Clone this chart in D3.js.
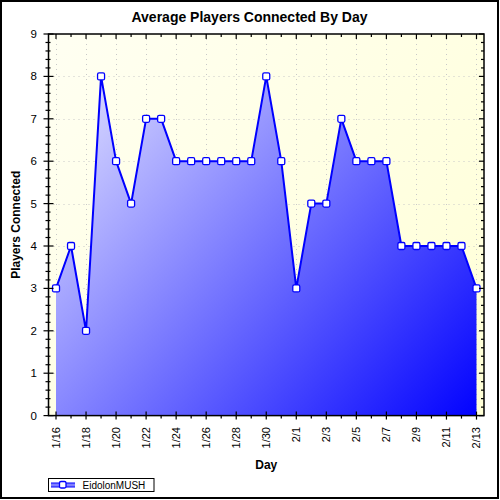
<!DOCTYPE html>
<html><head><meta charset="utf-8">
<script src="https://cdn.jsdelivr.net/npm/d3@7"></script>
<style>body{margin:0;background:#fff}svg{display:block}</style>
</head><body>
<svg id="c" width="500" height="500"></svg>
<script>
const days = ["1/16","1/17","1/18","1/19","1/20","1/21","1/22","1/23","1/24","1/25","1/26","1/27","1/28","1/29","1/30","1/31",
              "2/1","2/2","2/3","2/4","2/5","2/6","2/7","2/8","2/9","2/10","2/11","2/12","2/13"];
const players = [3,4,2,8,6,5,7,7,6,6,6,6,6,6,8,6,3,5,5,7,6,6,6,4,4,4,4,4,3];
const yTicks = [0,1,2,3,4,5,6,7,8,9];
const seriesName = "EidolonMUSH";
const title = "Average Players Connected By Day";
const xTitle = "Day";
const yTitle = "Players Connected";

const svg = d3.select("#c");
const L = 48.5, R = 484, T = 34, B = 415.6;
const x = d3.scalePoint().domain(days).range([L, R]).padding(0.5);
const y = d3.scaleLinear().domain([0, 9]).range([B, T]);
const labelDays = days.filter((d, i) => i % 2 === 0);
const minorY = d3.range(0, 9.001, 0.2).filter(v => Math.abs(v - Math.round(v)) > 1e-6);

const defs = svg.append("defs");
const bg = defs.append("linearGradient").attr("id","bg").attr("gradientUnits","userSpaceOnUse")
  .attr("x1",L).attr("y1",T).attr("x2",R).attr("y2",B);
bg.append("stop").attr("offset",0).attr("stop-color","#fffff2");
bg.append("stop").attr("offset",1).attr("stop-color","#ffffd6");
const ag = defs.append("linearGradient").attr("id","ag").attr("gradientUnits","userSpaceOnUse")
  .attr("x1",L).attr("y1",T).attr("x2",R).attr("y2",B);
ag.append("stop").attr("offset",0).attr("stop-color","#f2f2ff");
ag.append("stop").attr("offset",1).attr("stop-color","#0000ff");
const lg = defs.append("linearGradient").attr("id","lg").attr("x1",0).attr("y1",0).attr("x2",0).attr("y2",1);
lg.append("stop").attr("offset",0).attr("stop-color","#0000ff");
lg.append("stop").attr("offset",0.5).attr("stop-color","#a0a0ff");
lg.append("stop").attr("offset",1).attr("stop-color","#0000ff");

// outer frame
svg.append("rect").attr("x",1).attr("y",1).attr("width",497).attr("height",497)
  .attr("fill","#fff").attr("stroke","#000").attr("stroke-width",2);

// plot background
svg.append("rect").attr("x",L).attr("y",T).attr("width",R-L).attr("height",B-T).attr("fill","url(#bg)");

// grid
const grid = svg.append("g").attr("stroke","#c8c8c8").attr("stroke-dasharray","1,4").attr("stroke-width",1);
grid.selectAll("line.h").data(yTicks.slice(1,-1)).join("line")
  .attr("x1",L).attr("x2",R).attr("y1",d=>Math.round(y(d))+0.5).attr("y2",d=>Math.round(y(d))+0.5);
grid.selectAll("line.v").data(labelDays).join("line")
  .attr("y1",T).attr("y2",B).attr("x1",d=>Math.round(x(d))+0.5).attr("x2",d=>Math.round(x(d))+0.5);

// area
const area = d3.area().x((d,i)=>x(days[i])).y0(B).y1(d=>y(d));
svg.append("path").datum(players).attr("d",area).attr("fill","url(#ag)");
const line = d3.line().x((d,i)=>x(days[i])).y(d=>y(d));
svg.append("path").datum(players).attr("d",line).attr("fill","none")
  .attr("stroke","#0000ff").attr("stroke-width",2).attr("stroke-linejoin","round");

// markers
svg.append("g").selectAll("rect").data(players).join("rect")
  .attr("x",(d,i)=>x(days[i])-3.5).attr("y",d=>y(d)-3.5).attr("width",7).attr("height",7)
  .attr("rx",1.5).attr("fill","#fff").attr("stroke","#0000ff").attr("stroke-width",1.3);

// plot border
svg.append("rect").attr("x",L).attr("y",T).attr("width",R-L).attr("height",B-T)
  .attr("fill","none").attr("stroke","#000").attr("stroke-width",1.5);

// axes
const ax = svg.append("g").attr("stroke","#000").attr("stroke-width",1.2);
// left
ax.selectAll("line.ly").data(yTicks).join("line")
  .attr("x1",L-5).attr("x2",L+5).attr("y1",d=>y(d)).attr("y2",d=>y(d));
ax.selectAll("line.lmy").data(minorY).join("line")
  .attr("x1",L-3).attr("x2",L+2).attr("y1",d=>y(d)).attr("y2",d=>y(d));
// right (inside)
ax.selectAll("line.ry").data(yTicks).join("line")
  .attr("x1",R-5).attr("x2",R).attr("y1",d=>y(d)).attr("y2",d=>y(d));
ax.selectAll("line.rmy").data(minorY).join("line")
  .attr("x1",R-3).attr("x2",R).attr("y1",d=>y(d)).attr("y2",d=>y(d));
// bottom
ax.selectAll("line.bx").data(labelDays).join("line")
  .attr("y1",B-4).attr("y2",B+4).attr("x1",d=>x(d)).attr("x2",d=>x(d));
ax.selectAll("line.bmx").data(days.filter((d,i)=>i%2===1)).join("line")
  .attr("y1",B).attr("y2",B+3).attr("x1",d=>x(d)).attr("x2",d=>x(d));
// top (inside)
ax.selectAll("line.tx").data(days).join("line")
  .attr("y1",T).attr("y2",(d,i)=>T+(i%2===0?5:3)).attr("x1",d=>x(d)).attr("x2",d=>x(d));

const font = "'Liberation Sans', Arial, sans-serif";
// y labels
svg.append("g").selectAll("text").data(yTicks).join("text")
  .attr("x",37).attr("y",d=>y(d)).attr("dy","0.35em").attr("text-anchor","end")
  .attr("font-family",font).attr("font-size",11.5).text(d=>d);
// x labels
svg.append("g").selectAll("text").data(labelDays).join("text")
  .attr("transform",d=>`translate(${x(d)+4},427) rotate(-90)`).attr("text-anchor","end")
  .attr("font-family",font).attr("font-size",11).text(d=>d);

// titles
svg.append("text").attr("x",249.5).attr("y",22).attr("text-anchor","middle")
  .attr("font-family",font).attr("font-weight","bold").attr("font-size",14).text(title);
svg.append("text").attr("x",(L+R)/2).attr("y",468.5).attr("text-anchor","middle")
  .attr("font-family",font).attr("font-weight","bold").attr("font-size",12).text(xTitle);
svg.append("text").attr("transform",`translate(20,${(T+B)/2}) rotate(-90)`).attr("text-anchor","middle")
  .attr("font-family",font).attr("font-weight","bold").attr("font-size",12).text(yTitle);

// legend
const lgG = svg.append("g");
lgG.append("rect").attr("x",48.5).attr("y",478.5).attr("width",105.5).attr("height",13)
  .attr("fill","#fff").attr("stroke","#000").attr("stroke-width",1);
lgG.append("rect").attr("x",51).attr("y",482.5).attr("width",24).attr("height",5).attr("fill","url(#lg)");
lgG.append("rect").attr("x",59.5).attr("y",481.5).attr("width",6.5).attr("height",6.5).attr("rx",1.5)
  .attr("fill","#fff").attr("stroke","#0000ff").attr("stroke-width",1.3);
lgG.append("text").attr("x",82.5).attr("y",488.6).attr("font-family",font).attr("font-size",10).text(seriesName);
</script>
</body></html>
